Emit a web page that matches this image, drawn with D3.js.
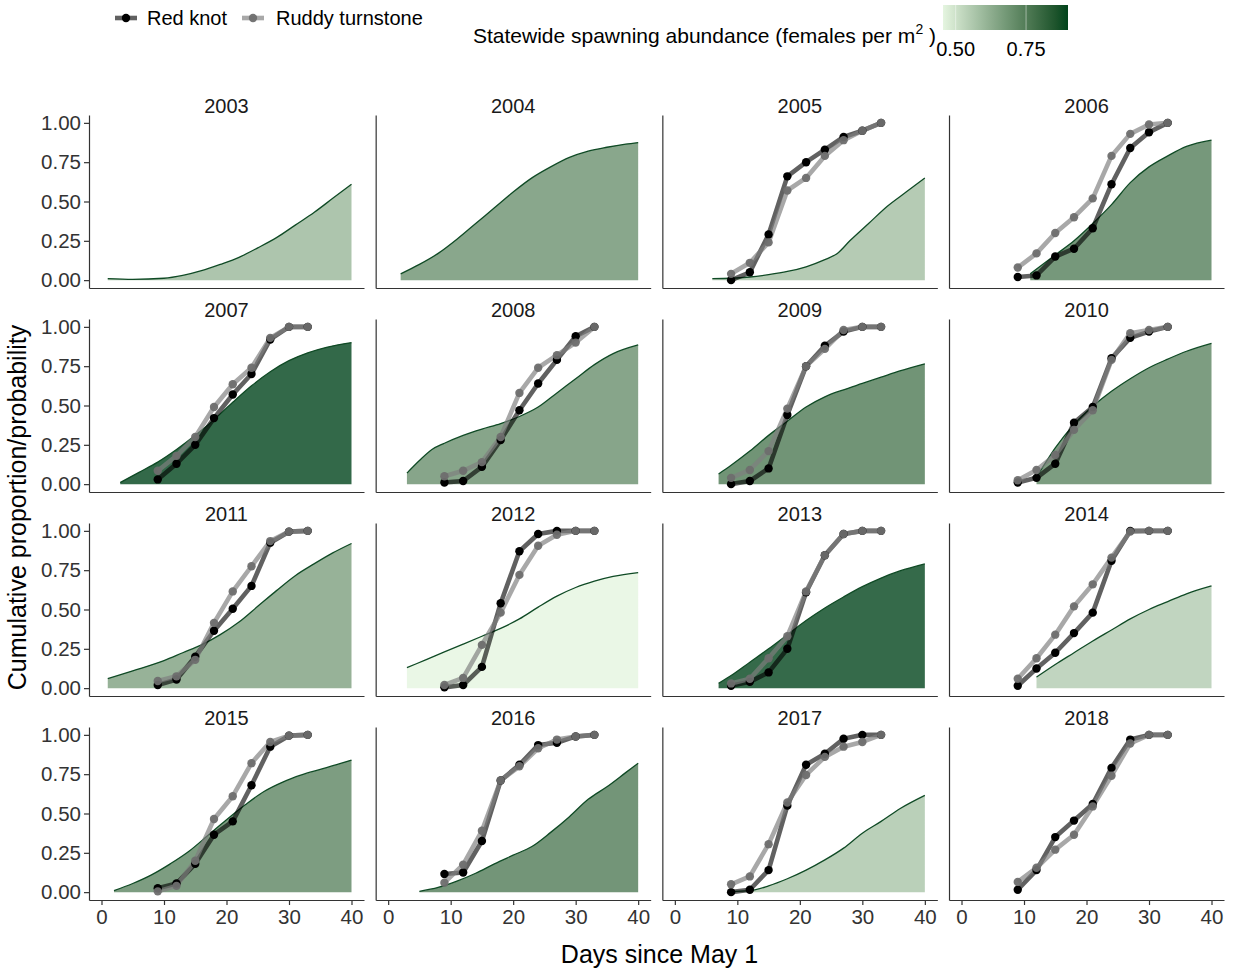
<!DOCTYPE html>
<html>
<head>
<meta charset="utf-8">
<script src="https://cdn.jsdelivr.net/npm/d3@7"></script>
<style>
  body { margin: 0; background: #fff; }
  svg text { font-family: "Liberation Sans", Arial, sans-serif; }
</style>
</head>
<body>
<svg id="chart" width="1233" height="972"></svg>
<script>
// ---- data ----
const years = [2003, 2004, 2005, 2006, 2007, 2008, 2009, 2010,
               2011, 2012, 2013, 2014, 2015, 2016, 2017, 2018];

// survey days (days since May 1) at which bird passage was summarised
const surveyDays = [9, 12, 15, 18, 21, 24, 27, 30, 33];

// cumulative proportion of birds, one row per year (null = no survey)
const redKnot = [
  null, null,
  [0.00, 0.05, 0.29, 0.66, 0.75, 0.83, 0.91, 0.95, 1.00],
  [0.02, 0.03, 0.15, 0.20, 0.33, 0.61, 0.84, 0.94, 1.00],
  [0.03, 0.13, 0.25, 0.42, 0.57, 0.70, 0.92, 1.00, 1.00],
  [0.01, 0.02, 0.11, 0.28, 0.47, 0.64, 0.79, 0.94, 1.00],
  [0.00, 0.02, 0.10, 0.44, 0.75, 0.88, 0.97, 1.00, 1.00],
  [0.01, 0.04, 0.13, 0.39, 0.49, 0.80, 0.93, 0.97, 1.00],
  [0.02, 0.055, 0.20, 0.365, 0.505, 0.65, 0.925, 0.995, 1.00],
  [0.005, 0.02, 0.135, 0.54, 0.87, 0.98, 1.00, 1.00, 1.00],
  [0.015, 0.04, 0.10, 0.25, 0.61, 0.845, 0.98, 1.00, 1.00],
  [0.015, 0.125, 0.225, 0.35, 0.48, 0.81, 1.00, 1.00, 1.00],
  [0.025, 0.055, 0.18, 0.365, 0.45, 0.68, 0.925, 0.995, 1.00],
  [0.115, 0.125, 0.325, 0.71, 0.81, 0.935, 0.95, 0.99, 1.00],
  [0.00, 0.015, 0.14, 0.55, 0.81, 0.88, 0.975, 1.00, 1.00],
  [0.015, 0.14, 0.35, 0.455, 0.56, 0.79, 0.97, 1.00, 1.00]
];

const ruddyTurnstone = [
  null, null,
  [0.04, 0.11, 0.24, 0.57, 0.65, 0.79, 0.89, 0.95, 1.00],
  [0.08, 0.17, 0.30, 0.40, 0.52, 0.79, 0.93, 0.99, 1.00],
  [0.085, 0.18, 0.30, 0.49, 0.635, 0.74, 0.93, 1.00, 1.00],
  [0.05, 0.085, 0.14, 0.30, 0.58, 0.74, 0.82, 0.90, 1.00],
  [0.04, 0.09, 0.21, 0.48, 0.75, 0.86, 0.98, 1.00, 1.00],
  [0.025, 0.09, 0.185, 0.345, 0.47, 0.79, 0.96, 0.98, 1.00],
  [0.045, 0.075, 0.18, 0.415, 0.615, 0.775, 0.935, 0.995, 1.00],
  [0.02, 0.065, 0.275, 0.48, 0.72, 0.905, 0.975, 1.00, 1.00],
  [0.03, 0.06, 0.19, 0.33, 0.615, 0.845, 0.98, 1.00, 1.00],
  [0.06, 0.19, 0.34, 0.52, 0.66, 0.83, 0.995, 1.00, 1.00],
  [0.005, 0.04, 0.20, 0.465, 0.61, 0.82, 0.955, 0.995, 1.00],
  [0.06, 0.175, 0.39, 0.71, 0.80, 0.915, 0.97, 0.99, 1.00],
  [0.05, 0.10, 0.305, 0.57, 0.745, 0.86, 0.925, 0.955, 1.00],
  [0.065, 0.155, 0.27, 0.365, 0.545, 0.74, 0.945, 1.00, 1.00]
];

// cumulative spawning probability curves: [day, probability]
const spawnCurve = [
  [[1,0.01],[5,0.005],[10,0.012],[13,0.03],[16,0.06],[19,0.10],[22,0.145],[25,0.205],[28,0.27],[31,0.35],[34,0.43],[37,0.52],[40,0.61]],
  [[2,0.04],[5,0.10],[8,0.17],[11,0.26],[14,0.36],[17,0.46],[20,0.56],[23,0.65],[26,0.72],[29,0.78],[32,0.82],[35,0.845],[38,0.865],[40,0.875]],
  [[6,0.01],[9,0.012],[12,0.02],[15,0.035],[18,0.055],[21,0.085],[24,0.13],[26,0.17],[28,0.25],[31,0.36],[34,0.47],[37,0.56],[40,0.65]],
  [[11,0.04],[15,0.16],[18,0.25],[21,0.36],[24,0.48],[27,0.62],[30,0.72],[33,0.79],[36,0.85],[40,0.89]],
  [[3,0.01],[6,0.075],[9,0.14],[12,0.22],[15,0.31],[18,0.41],[21,0.52],[24,0.625],[27,0.715],[30,0.785],[33,0.835],[36,0.87],[40,0.90]],
  [[3,0.07],[5,0.15],[7,0.22],[9,0.26],[12,0.31],[15,0.35],[18,0.385],[21,0.43],[24,0.49],[27,0.58],[30,0.67],[33,0.76],[36,0.83],[40,0.885]],
  [[7,0.065],[9,0.12],[12,0.21],[15,0.31],[18,0.40],[21,0.49],[24,0.555],[27,0.60],[30,0.64],[33,0.68],[36,0.72],[40,0.765]],
  [[12,0.045],[13.5,0.14],[15,0.23],[18,0.38],[21,0.495],[24,0.59],[27,0.67],[30,0.74],[33,0.795],[36,0.845],[40,0.895]],
  [[1,0.06],[5,0.11],[10,0.175],[13,0.225],[16,0.275],[19,0.34],[22,0.42],[25,0.52],[28,0.62],[31,0.715],[34,0.79],[37,0.86],[40,0.92]],
  [[3,0.13],[6,0.18],[9,0.23],[12,0.28],[15,0.33],[18,0.38],[21,0.44],[24,0.515],[27,0.585],[30,0.64],[33,0.68],[36,0.71],[40,0.735]],
  [[7,0.03],[9,0.08],[12,0.165],[15,0.25],[18,0.34],[21,0.43],[24,0.51],[27,0.58],[30,0.645],[33,0.70],[36,0.745],[40,0.79]],
  [[12,0.07],[15,0.15],[18,0.225],[21,0.30],[24,0.37],[27,0.44],[30,0.50],[33,0.55],[36,0.60],[40,0.65]],
  [[2,0.01],[5,0.055],[8,0.11],[11,0.18],[14,0.26],[17,0.36],[20,0.46],[23,0.555],[26,0.64],[29,0.70],[32,0.745],[35,0.78],[38,0.815],[40,0.84]],
  [[5,0.005],[8,0.03],[11,0.07],[14,0.12],[17,0.18],[20,0.235],[23,0.29],[26,0.38],[29,0.48],[32,0.59],[35,0.67],[38,0.76],[40,0.82]],
  [[8.5,0.005],[12,0.01],[15,0.04],[18,0.085],[21,0.14],[24,0.205],[27,0.28],[30,0.375],[33,0.45],[36,0.53],[40,0.615]],
  null
];

// statewide spawning abundance (females per m^2) used for the area fill
const spawnAbundance = [0.605, 0.695, 0.584, 0.744, 0.899, 0.700, 0.757, 0.726,
                        0.660, 0.455, 0.895, 0.553, 0.726, 0.753, 0.570, null];

const yTicks = [0, 0.25, 0.5, 0.75, 1];
const xTicks = [0, 10, 20, 30, 40];
const abundanceTicks = [0.5, 0.75];
const speciesNames = ["Red knot", "Ruddy turnstone"];

// ---- layout ----
const svg = d3.select("#chart");
const panelW = 275, panelH = 173;
const panelLeft = 89, panelTop = 115;
const colStep = 286.67, rowStep = 204;
const nCols = 4;

const x = d3.scaleLinear().domain([-2, 42]).range([0, panelW]);
const y = d3.scaleLinear().domain([-0.05, 1.05]).range([panelH, 0]);

const abundanceExtent = d3.extent(spawnAbundance.filter(v => v != null));
const fillScale = d3.scaleLinear()
  .domain(abundanceExtent)
  .range(["#e5f5e0", "#00441b"])
  .interpolate(d3.interpolateLab);

const speciesStyle = [
  { line: "#000000", lineOpacity: 0.62, point: "#000000", pointOpacity: 1 },
  { line: "#7f7f7f", lineOpacity: 0.68, point: "#6e6e6e", pointOpacity: 0.95 }
];
const lineWidth = 4.6, pointR = 4.2;

const area = d3.area()
  .x(d => x(d[0])).y0(y(0)).y1(d => y(d[1]))
  .curve(d3.curveMonotoneX);
const curveLine = d3.line()
  .x(d => x(d[0])).y(d => y(d[1]))
  .curve(d3.curveMonotoneX);
const birdLine = d3.line()
  .x(d => x(d[0])).y(d => y(d[1]));

const axisColor = "#333333";
const tickFont = 20.5;

years.forEach((year, i) => {
  const col = i % nCols, row = Math.floor(i / nCols);
  const g = svg.append("g")
    .attr("transform", `translate(${panelLeft + col * colStep},${panelTop + row * rowStep})`);

  // spawning curve
  const curve = spawnCurve[i];
  if (curve) {
    g.append("path")
      .attr("d", area(curve))
      .attr("fill", fillScale(spawnAbundance[i]))
      .attr("fill-opacity", 0.8);
    g.append("path")
      .attr("d", curveLine(curve))
      .attr("fill", "none")
      .attr("stroke", "#0f4a25")
      .attr("stroke-width", 1.3);
  }

  // bird passage
  const series = [redKnot[i], ruddyTurnstone[i]];
  series.forEach((vals, s) => {
    if (!vals) return;
    const pts = surveyDays.map((d, k) => [d, vals[k]]);
    g.append("path")
      .attr("d", birdLine(pts))
      .attr("fill", "none")
      .attr("stroke", speciesStyle[s].line)
      .attr("stroke-opacity", speciesStyle[s].lineOpacity)
      .attr("stroke-width", lineWidth)
      .attr("stroke-linejoin", "round");
  });
  series.forEach((vals, s) => {
    if (!vals) return;
    g.selectAll(null)
      .data(surveyDays.map((d, k) => [d, vals[k]]))
      .join("circle")
      .attr("cx", d => x(d[0]))
      .attr("cy", d => y(d[1]))
      .attr("r", pointR)
      .attr("fill", speciesStyle[s].point)
      .attr("fill-opacity", speciesStyle[s].pointOpacity);
  });

  // axes
  const yAxis = d3.axisLeft(y)
    .tickValues(col === 0 ? yTicks : [])
    .tickFormat(d3.format(".2f"))
    .tickSize(5).tickSizeOuter(0).tickPadding(3);
  const xAxis = d3.axisBottom(x)
    .tickValues(row === 3 ? xTicks : [])
    .tickSize(5).tickSizeOuter(0).tickPadding(4);

  const ya = g.append("g").call(yAxis);
  const xa = g.append("g").attr("transform", `translate(0,${panelH})`).call(xAxis);
  [ya, xa].forEach(a => {
    a.select(".domain").attr("stroke", axisColor).attr("stroke-width", 1.2);
    a.selectAll(".tick line").attr("stroke", axisColor).attr("stroke-width", 1.2);
    a.selectAll(".tick text")
      .attr("fill", "#333333")
      .style("font-size", tickFont + "px")
      .style("font-family", '"Liberation Sans", Arial, sans-serif');
  });

  // strip label
  g.append("text")
    .attr("x", panelW / 2)
    .attr("y", -2)
    .attr("text-anchor", "middle")
    .attr("fill", "#1a1a1a")
    .style("font-size", "20px")
    .text(year);
});

// axis titles
const plotRight = panelLeft + 3 * colStep + panelW;
const plotBottom = panelTop + 3 * rowStep + panelH;
svg.append("text")
  .attr("x", (panelLeft + plotRight) / 2 + 3)
  .attr("y", 963)
  .attr("text-anchor", "middle")
  .style("font-size", "25px")
  .text("Days since May 1");
svg.append("text")
  .attr("transform", `translate(26,${(panelTop + plotBottom) / 2}) rotate(-90)`)
  .attr("text-anchor", "middle")
  .style("font-size", "25px")
  .text("Cumulative proportion/probability");

// species legend
const legendY = 18;
const legendKeys = [
  { cx: 126, tx: 147 },
  { cx: 253, tx: 276 }
];
speciesNames.forEach((name, s) => {
  const k = legendKeys[s];
  svg.append("line")
    .attr("x1", k.cx - 11).attr("x2", k.cx + 11)
    .attr("y1", legendY).attr("y2", legendY)
    .attr("stroke", speciesStyle[s].line)
    .attr("stroke-opacity", speciesStyle[s].lineOpacity)
    .attr("stroke-width", lineWidth);
  svg.append("circle")
    .attr("cx", k.cx).attr("cy", legendY).attr("r", pointR)
    .attr("fill", speciesStyle[s].point)
    .attr("fill-opacity", speciesStyle[s].pointOpacity);
  svg.append("text")
    .attr("x", k.tx).attr("y", legendY + 7)
    .style("font-size", "20px")
    .attr("fill", "#000")
    .text(name);
});

// colour bar legend
const barX0 = 943, barX1 = 1068, barY = 5, barH = 25;
const barScale = d3.scaleLinear().domain(abundanceExtent).range([barX0, barX1]);
const defs = svg.append("defs");
const grad = defs.append("linearGradient").attr("id", "abundanceGrad");
d3.range(0, 1.0001, 0.1).forEach(t => {
  const v = abundanceExtent[0] + t * (abundanceExtent[1] - abundanceExtent[0]);
  grad.append("stop").attr("offset", t).attr("stop-color", fillScale(v));
});
svg.append("rect")
  .attr("x", barX0).attr("y", barY)
  .attr("width", barX1 - barX0).attr("height", barH)
  .attr("fill", "url(#abundanceGrad)");
abundanceTicks.forEach(v => {
  svg.append("line")
    .attr("x1", barScale(v)).attr("x2", barScale(v))
    .attr("y1", barY).attr("y2", barY + barH)
    .attr("stroke", "#fff").attr("stroke-opacity", 0.45).attr("stroke-width", 1);
  svg.append("text")
    .attr("x", barScale(v)).attr("y", 56)
    .attr("text-anchor", "middle")
    .attr("fill", "#000")
    .style("font-size", "20px")
    .text(d3.format(".2f")(v));
});
const legendTitle = svg.append("text")
  .attr("x", 936).attr("y", 43)
  .attr("text-anchor", "end")
  .attr("fill", "#000")
  .style("font-size", "21px");
legendTitle.append("tspan").text("Statewide spawning abundance (females per m");
legendTitle.append("tspan").attr("dy", -9).style("font-size", "14px").text("2");
legendTitle.append("tspan").attr("dy", 9).text(" )");
</script>
</body>
</html>
